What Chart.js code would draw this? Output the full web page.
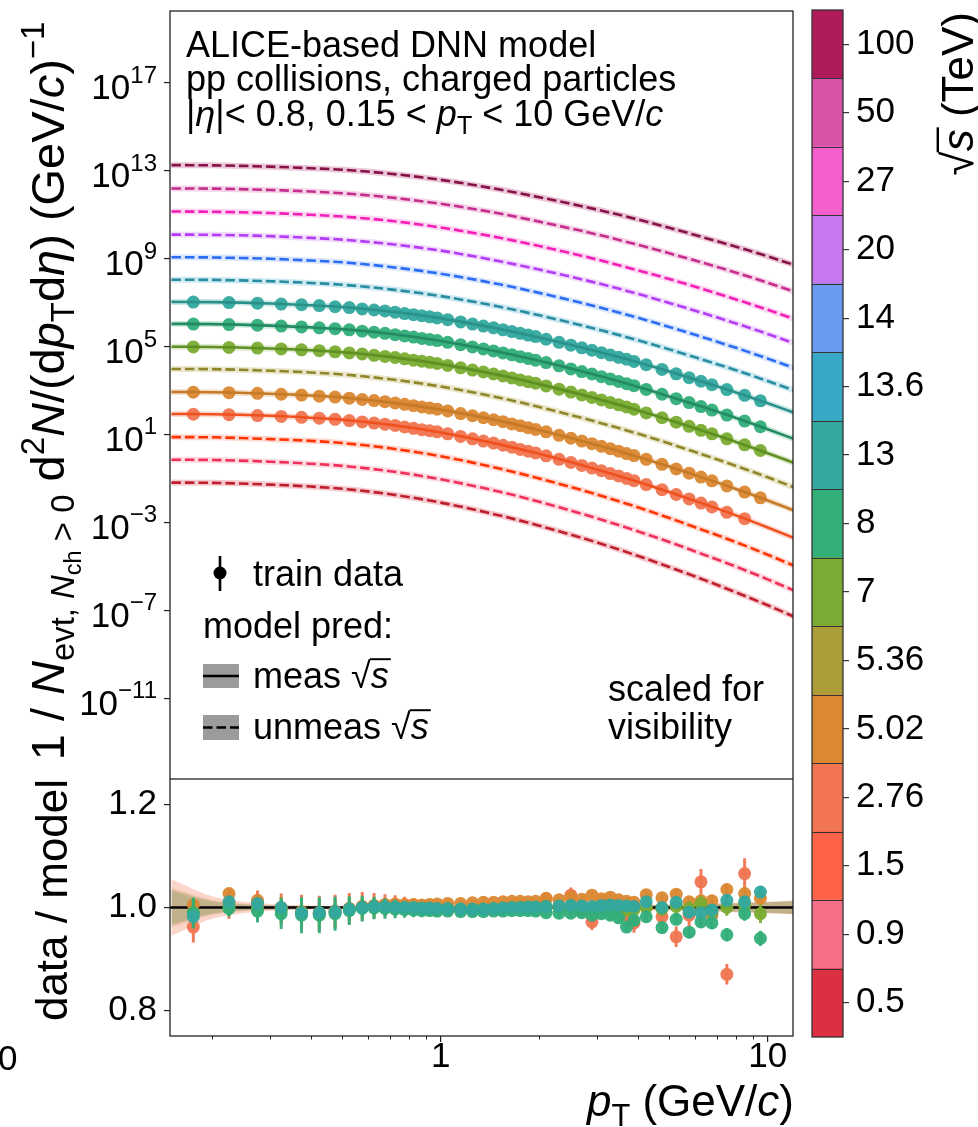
<!DOCTYPE html>
<html><head><meta charset="utf-8">
<script src="https://cdn.jsdelivr.net/npm/chart.js@4.4.1/dist/chart.umd.min.js"></script>
<style>
html,body{margin:0;padding:0;background:#fff;}
#wrap{position:relative;width:978px;height:1127px;overflow:hidden;background:#fff;}
.layer{position:absolute;left:0;}
</style></head><body>
<div id="wrap">
<div class="layer" style="top:0;width:978px;height:779px"><canvas id="top" width="978" height="779"></canvas></div>
<div class="layer" style="top:779px;width:978px;height:348px"><canvas id="ratio" width="978" height="348"></canvas></div>
<div class="layer" style="top:0;width:978px;height:1127px;pointer-events:none"><canvas id="cbar" width="978" height="1127"></canvas></div>
</div>
<script>
// ---------------- DATA ----------------
const energies = ['0.5','0.9','1.5','2.76','5.02','5.36','7','8','13','13.6','14','20','27','50','100'];
const measured = [false,false,false,true,true,false,true,true,true,false,false,false,false,false,false];
const pTGrid = [0.15,0.2,0.3,0.4,0.5,0.7,1,1.5,2,3,4,5,6,8,10,12];
// model predictions, log10 of yield (already scaled for visibility)
const model_0_5  = [-1.19,-1.20,-1.28,-1.37,-1.47,-1.72,-2.10,-2.67,-3.15,-3.91,-4.52,-5.03,-5.46,-6.18,-6.77,-7.28];
const model_0_9  = [-0.15,-0.16,-0.24,-0.33,-0.43,-0.67,-1.04,-1.59,-2.06,-2.81,-3.40,-3.89,-4.32,-5.01,-5.59,-6.09];
const model_1_5  = [0.88,0.87,0.79,0.71,0.61,0.37,0.01,-0.54,-1.00,-1.73,-2.31,-2.80,-3.22,-3.90,-4.47,-4.96];
const model_2_76 = [1.93,1.92,1.85,1.76,1.67,1.44,1.09,0.56,0.12,-0.59,-1.15,-1.62,-2.02,-2.68,-3.23,-3.70];
const model_5_02 = [2.93,2.92,2.85,2.77,2.68,2.46,2.13,1.63,1.20,0.52,-0.01,-0.46,-0.85,-1.48,-2.00,-2.45];
const model_5_36 = [3.98,3.97,3.90,3.82,3.73,3.51,3.18,2.68,2.25,1.57,1.04,0.59,0.20,-0.43,-0.95,-1.40];
const model_7    = [4.99,4.98,4.91,4.83,4.74,4.53,4.20,3.71,3.29,2.63,2.10,1.66,1.28,0.66,0.15,-0.29];
const model_8    = [6.03,6.02,5.95,5.87,5.79,5.58,5.25,4.76,4.35,3.69,3.17,2.73,2.36,1.75,1.24,0.80];
const model_13   = [7.03,7.02,6.96,6.88,6.80,6.59,6.28,5.81,5.41,4.78,4.28,3.86,3.50,2.91,2.42,2.00];
const model_13_6 = [8.04,8.03,7.97,7.89,7.81,7.60,7.29,6.82,6.42,5.79,5.29,4.87,4.51,3.92,3.43,3.01];
const model_14   = [9.06,9.05,8.99,8.91,8.83,8.62,8.31,7.84,7.44,6.81,6.31,5.89,5.53,4.94,4.45,4.03];
const model_20   = [10.09,10.08,10.02,9.94,9.86,9.66,9.36,8.89,8.50,7.89,7.40,6.98,6.63,6.05,5.57,5.16];
const model_27   = [11.14,11.13,11.07,10.99,10.91,10.72,10.41,9.96,9.57,8.96,8.47,8.07,7.72,7.14,6.67,6.26];
const model_50   = [12.19,12.18,12.12,12.05,11.97,11.78,11.49,11.06,10.68,10.10,9.63,9.24,8.91,8.36,7.90,7.51];
const model_100  = [13.25,13.24,13.18,13.11,13.04,12.86,12.58,12.15,11.79,11.23,10.78,10.40,10.07,9.54,9.10,8.72];
const modelLogs = [model_0_5,model_0_9,model_1_5,model_2_76,model_5_02,model_5_36,model_7,model_8,model_13,model_13_6,model_14,model_20,model_27,model_50,model_100];

// measured pT bin centres
const binCenters = [0.175,0.225,0.275,0.325,0.375,0.425,0.475,0.525,0.575,0.625,0.675,0.725,0.775,0.825,0.875,0.925,0.975,
  1.05,1.15,1.25,1.35,1.45,1.55,1.65,1.75,1.85,1.95,2.1,2.3,2.5,2.7,2.9,3.1,3.3,3.5,3.7,3.9,4.25,4.75,5.25,5.75,6.25,6.75,7.5,8.5,9.5];
// train data (log10, scaled)
const spec_2_76 = [1.92,1.90,1.86,1.82,1.78,1.74,1.69,1.63,1.57,1.52,1.47,1.41,1.34,1.28,1.22,1.17,1.12,1.03,0.91,0.80,0.70,0.61,0.51,0.42,0.32,0.24,0.16,0.03,-0.13,-0.27,-0.41,-0.53,-0.65,-0.78,-0.89,-1.00,-1.10,-1.28,-1.51,-1.73,-1.93,-2.12,-2.30,-2.54,-2.83];
const spec_5_02 = [2.92,2.90,2.87,2.83,2.79,2.74,2.70,2.65,2.59,2.54,2.49,2.43,2.37,2.31,2.25,2.20,2.15,2.07,1.95,1.85,1.76,1.67,1.58,1.48,1.40,1.31,1.23,1.12,0.96,0.83,0.70,0.58,0.46,0.35,0.24,0.13,0.04,-0.13,-0.36,-0.57,-0.76,-0.94,-1.11,-1.34,-1.62,-1.88];
const spec_7    = [4.98,4.96,4.93,4.89,4.85,4.81,4.76,4.71,4.66,4.60,4.55,4.50,4.44,4.38,4.33,4.28,4.23,4.14,4.03,3.93,3.84,3.75,3.66,3.57,3.48,3.40,3.33,3.21,3.06,2.93,2.80,2.68,2.57,2.45,2.35,2.25,2.15,1.98,1.76,1.56,1.37,1.19,1.03,0.80,0.53,0.27];
const spec_8    = [6.02,6.00,5.97,5.93,5.89,5.85,5.81,5.76,5.70,5.65,5.60,5.54,5.48,5.43,5.37,5.32,5.27,5.19,5.08,4.98,4.89,4.80,4.71,4.62,4.54,4.46,4.38,4.27,4.12,3.98,3.86,3.75,3.63,3.52,3.41,3.31,3.22,3.05,2.83,2.63,2.45,2.27,2.11,1.88,1.61,1.35];
const spec_13   = [7.02,7.00,6.97,6.93,6.90,6.86,6.81,6.77,6.71,6.66,6.62,6.56,6.50,6.45,6.40,6.35,6.30,6.22,6.12,6.02,5.93,5.85,5.76,5.68,5.60,5.52,5.45,5.33,5.19,5.06,4.94,4.83,4.72,4.61,4.51,4.42,4.32,4.17,3.96,3.76,3.58,3.42,3.26,3.04,2.78,2.53];
// data / model
const ratio_2_76 = [0.962,1.008,1.005,0.997,0.990,0.988,0.992,0.998,1.002,1.003,1.004,1.004,1.003,1.002,1.000,1.001,0.999,0.998,0.997,0.996,0.997,0.998,1.000,1.002,1.003,1.004,1.002,1.017,1.003,1.024,0.995,0.972,1.006,1.003,0.998,0.985,0.970,1.000,0.982,0.943,0.985,1.050,0.985,0.870,1.066];
const err_2_76   = [0.03,0.03,0.028,0.03,0.035,0.035,0.033,0.03,0.028,0.025,0.022,0.02,0.018,0.016,0.015,0.015,0.015,0.014,0.013,0.012,0.012,0.012,0.012,0.012,0.012,0.013,0.013,0.013,0.014,0.015,0.015,0.016,0.016,0.017,0.018,0.018,0.019,0.02,0.02,0.02,0.022,0.025,0.025,0.02,0.03];
const ratio_5_02 = [1.005,1.027,1.014,1.000,0.992,0.990,0.993,0.998,1.002,1.004,1.006,1.007,1.006,1.006,1.005,1.006,1.007,1.008,1.008,1.009,1.010,1.010,1.011,1.012,1.012,1.011,1.012,1.018,1.015,1.020,1.016,1.024,1.017,1.020,1.015,1.012,1.010,1.025,1.019,1.026,1.011,1.013,1.013,1.035,1.027,1.018];
const err_5_02   = [0.008,0.006,0.006,0.006,0.006,0.006,0.006,0.005,0.005,0.005,0.005,0.005,0.005,0.005,0.005,0.005,0.005,0.005,0.005,0.005,0.005,0.005,0.005,0.005,0.005,0.005,0.005,0.006,0.006,0.006,0.006,0.007,0.007,0.007,0.007,0.008,0.008,0.008,0.009,0.009,0.01,0.01,0.011,0.011,0.012,0.013];
const ratio_7    = [0.990,1.000,0.998,0.995,0.990,0.988,0.990,0.996,1.000,1.001,1.000,1.000,0.999,0.998,0.998,0.998,0.997,0.997,0.996,0.996,0.997,0.998,0.998,0.999,1.000,1.000,1.001,1.002,1.000,1.002,1.001,0.998,1.000,1.002,0.998,0.995,0.996,1.000,0.997,1.002,0.998,1.008,0.990,1.000,1.004,0.988];
const err_7      = [0.025,0.015,0.02,0.025,0.028,0.028,0.026,0.022,0.02,0.018,0.016,0.015,0.013,0.012,0.011,0.010,0.010,0.010,0.009,0.009,0.009,0.009,0.009,0.009,0.009,0.009,0.009,0.009,0.009,0.01,0.01,0.01,0.011,0.011,0.011,0.012,0.012,0.012,0.013,0.013,0.014,0.015,0.015,0.016,0.017,0.018];
const ratio_8    = [0.989,0.998,0.993,0.988,0.985,0.985,0.988,0.994,0.998,0.999,0.998,0.997,0.996,0.995,0.994,0.994,0.993,0.993,0.992,0.992,0.992,0.993,0.993,0.994,0.994,0.994,0.993,0.990,0.989,0.989,0.990,0.985,0.988,0.985,0.980,0.962,0.975,0.982,0.961,0.977,0.952,0.972,0.970,0.947,0.988,0.940];
const err_8      = [0.03,0.016,0.022,0.03,0.035,0.035,0.033,0.028,0.025,0.022,0.02,0.018,0.016,0.014,0.013,0.012,0.011,0.01,0.009,0.009,0.008,0.008,0.008,0.008,0.008,0.008,0.008,0.008,0.008,0.008,0.008,0.009,0.009,0.009,0.009,0.01,0.01,0.01,0.011,0.011,0.012,0.012,0.012,0.013,0.014,0.015];
const ratio_13   = [0.982,1.011,1.008,1.000,0.990,0.990,0.992,0.997,1.000,1.002,1.002,1.001,1.000,1.000,0.999,0.999,0.998,0.998,0.997,0.997,0.997,0.998,0.999,1.000,1.000,1.001,1.001,1.002,1.003,1.004,1.003,1.002,1.004,1.005,1.004,1.003,1.002,1.011,1.000,1.010,0.991,0.990,0.995,1.014,1.011,1.030];
const err_13     = [0.01,0.006,0.006,0.006,0.006,0.006,0.006,0.005,0.005,0.005,0.005,0.005,0.005,0.005,0.005,0.005,0.005,0.005,0.005,0.005,0.005,0.005,0.005,0.005,0.005,0.005,0.005,0.005,0.005,0.006,0.006,0.006,0.006,0.006,0.006,0.007,0.007,0.007,0.008,0.008,0.009,0.009,0.01,0.01,0.011,0.012];
// model uncertainty half-widths (relative) on pTGrid
const band_2_76 = [0.055,0.022,0.007,0.004,0.003,0.003,0.003,0.003,0.003,0.004,0.005,0.006,0.007,0.009,0.011,0.013];
const band_5_02 = [0.040,0.015,0.005,0.003,0.003,0.003,0.003,0.003,0.003,0.004,0.005,0.006,0.007,0.009,0.011,0.013];
const band_7    = [0.035,0.012,0.004,0.003,0.002,0.002,0.002,0.002,0.003,0.003,0.004,0.005,0.006,0.008,0.010,0.012];
const band_8    = [0.035,0.013,0.004,0.003,0.002,0.002,0.002,0.002,0.003,0.003,0.004,0.005,0.006,0.008,0.010,0.012];
const band_13   = [0.030,0.010,0.004,0.003,0.002,0.002,0.002,0.002,0.003,0.003,0.004,0.005,0.006,0.008,0.010,0.012];

const yTickExp = [17,13,9,5,1,-3,-7,-11];
const ratioTicks = [0.8,1.0,1.2];
const xMajorTicks = [1,10];
const xMinorTicks = [0.2,0.3,0.4,0.5,0.6,0.7,0.8,0.9,2,3,4,5,6,7,8,9];

// ---------------- STYLE ----------------
const cbColors  = ['#DD2F42','#F56F88','#FE6247','#F07550','#DB8833','#AB9E38','#7AAC33','#32AE79','#33A89E','#37A8C6','#6A9BF0','#C678EE','#F55FCC','#D852A8','#AE1A5A'];
const lineColors= ['#BE1E2D','#F0305A','#FF3300','#F0501E','#C47A26','#8F862A','#5E8F22','#238A63','#2A918A','#2A8CA0','#2B6CF5','#B43CF5','#F21EB5','#C42D8C','#86124A'];
const FONT = '"Liberation Sans", Arial, Helvetica, sans-serif';
Chart.defaults.font.family = FONT;
const xMin = 0.1485, xMax = 11.95;
const TICK = 35, TEXT = 36, TITLE = 46;

function hexA(h,a){const n=parseInt(h.slice(1),16);return `rgba(${n>>16&255},${n>>8&255},${n&255},${a})`;}
function fnt(sz,it){return (it?'italic ':'')+sz+'px '+FONT;}
function noPad(s){s.paddingTop=0;s.paddingBottom=0;s.paddingLeft=0;s.paddingRight=0;}
function drawRich(ctx,segs,x,y,S,align){
  let total=0;
  const items=segs.map(s=>{const fs=S*(s.sc||1);ctx.font=fnt(fs,s.it);const w=ctx.measureText(s.t).width;total+=w;return Object.assign({},s,{fs,w});});
  let cx=align==='center'?x-total/2:align==='right'?x-total:x;
  ctx.textAlign='left';ctx.textBaseline='alphabetic';
  items.forEach(it=>{
    ctx.font=fnt(it.fs,it.it);const yy=y+(it.dy||0)*S;ctx.fillText(it.t,cx,yy);
    if(it.ov){ctx.save();ctx.lineWidth=Math.max(1.5,it.fs*0.055);ctx.strokeStyle=ctx.fillStyle;ctx.beginPath();ctx.moveTo(cx-1,yy-it.fs*0.80);ctx.lineTo(cx+it.w+2,yy-it.fs*0.80);ctx.stroke();ctx.restore();}
    cx+=it.w;
  });
  return total;
}
const SQRT_S=[{t:'\u221A'},{t:'s',it:1,ov:1}];

// ---------------- TOP PANEL ----------------
const topDatasets=[];
modelLogs.forEach((arr,i)=>{
  const pts=pTGrid.map((x,j)=>({x,y:Math.pow(10,arr[j])}));
  topDatasets.push({type:'line',data:pts,borderColor:hexA(cbColors[i],0.25),borderWidth:6,pointRadius:0,cubicInterpolationMode:'monotone',order:3,clip:0});
  topDatasets.push({type:'line',data:pts,borderColor:lineColors[i],borderWidth:2.6,borderDash:measured[i]?[]:[9.5,4],pointRadius:0,cubicInterpolationMode:'monotone',order:0,clip:0});
});
const measSeries=[
  {spec:spec_2_76,ratio:ratio_2_76,err:err_2_76,band:band_2_76,ci:3},
  {spec:spec_5_02,ratio:ratio_5_02,err:err_5_02,band:band_5_02,ci:4},
  {spec:spec_7,ratio:ratio_7,err:err_7,band:band_7,ci:6},
  {spec:spec_8,ratio:ratio_8,err:err_8,band:band_8,ci:7},
  {spec:spec_13,ratio:ratio_13,err:err_13,band:band_13,ci:8}
];
measSeries.forEach(s=>{
  topDatasets.push({type:'scatter',data:s.spec.map((v,j)=>({x:binCenters[j],y:Math.pow(10,v)})),backgroundColor:hexA(cbColors[s.ci],0.95),borderWidth:0,pointRadius:6.5,order:1});
});

const topPlugin={id:'topDeco',afterDraw(chart){
  const {ctx,chartArea:a,scales:{y}}=chart;
  ctx.save();
  ctx.strokeStyle='#222';ctx.lineWidth=1.3;ctx.strokeRect(a.left,a.top,a.right-a.left,a.bottom-a.top);
  ctx.fillStyle='#000';
  yTickExp.forEach(e=>{
    const py=y.getPixelForValue(Math.pow(10,e));
    const sup=(e<0?'\u2212':'')+Math.abs(e);
    ctx.font=fnt(24);const ws=ctx.measureText(sup).width;
    ctx.textAlign='left';ctx.textBaseline='alphabetic';
    ctx.fillText(sup,157-ws,py);
    ctx.font=fnt(TICK);ctx.textAlign='right';
    ctx.fillText('10',157-ws,py+16.5);
  });
  // y title
  ctx.save();ctx.translate(64,391);ctx.rotate(-Math.PI/2);
  drawRich(ctx,[{t:'1 / '},{t:'N',it:1},{t:'evt, ',sc:.7,dy:.22},{t:'N',it:1,sc:.7,dy:.22},{t:'ch',sc:.5,dy:.36},{t:' > 0',sc:.7,dy:.22},
    {t:' d'},{t:'2',sc:.7,dy:-.42},{t:'N',it:1},{t:'/(d'},{t:'p',it:1},{t:'T',sc:.7,dy:.22},{t:'d'},{t:'\u03B7',it:1},{t:') (GeV/'},{t:'c',it:1},{t:')'},{t:'\u22121',sc:.7,dy:-.42}],0,0,TITLE+1,'center');
  ctx.restore();
  // header text
  ctx.fillStyle='#000';
  drawRich(ctx,[{t:'ALICE-based DNN model'}],186,57,TEXT,'left');
  drawRich(ctx,[{t:'pp collisions, charged particles'}],186,91,TEXT,'left');
  drawRich(ctx,[{t:'|'},{t:'\u03B7',it:1},{t:'|< 0.8, 0.15 < '},{t:'p',it:1},{t:'T',sc:.7,dy:.22},{t:' < 10 GeV/'},{t:'c',it:1}],186,126,TEXT,'left');
  // legend
  ctx.strokeStyle='#000';ctx.lineWidth=2.6;
  ctx.beginPath();ctx.moveTo(220,556);ctx.lineTo(220,591);ctx.stroke();
  ctx.beginPath();ctx.arc(220,573,6.5,0,Math.PI*2);ctx.fill();
  drawRich(ctx,[{t:'train data'}],253,586,TEXT,'left');
  drawRich(ctx,[{t:'model pred:'}],203,638,TEXT,'left');
  ctx.fillStyle='#9b9b9b';ctx.fillRect(203,664,36,24);ctx.fillRect(203,715,36,25);
  ctx.beginPath();ctx.moveTo(203,676);ctx.lineTo(239,676);ctx.stroke();
  ctx.setLineDash([9.5,4]);ctx.beginPath();ctx.moveTo(203,727.5);ctx.lineTo(239,727.5);ctx.stroke();ctx.setLineDash([]);
  ctx.fillStyle='#000';
  drawRich(ctx,[{t:'meas '}].concat(SQRT_S),253,688,TEXT,'left');
  drawRich(ctx,[{t:'unmeas '}].concat(SQRT_S),253,739,TEXT,'left');
  drawRich(ctx,[{t:'scaled for'}],608,701,TEXT,'left');
  drawRich(ctx,[{t:'visibility'}],608,739,TEXT,'left');
  ctx.restore();
}};

new Chart(document.getElementById('top'),{
  type:'line',
  data:{datasets:topDatasets},
  options:{responsive:false,animation:false,
    layout:{autoPadding:false,padding:{left:0,right:185,top:11,bottom:0}},
    plugins:{legend:{display:false},tooltip:{enabled:false}},
    scales:{
      x:{type:'logarithmic',min:xMin,max:xMax,ticks:{display:false},grid:{display:false},border:{display:false},afterFit:s=>{s.height=0;noPad(s);}},
      y:{type:'logarithmic',min:Math.pow(10,-14.67),max:Math.pow(10,20.26),
        afterBuildTicks:s=>{s.ticks=yTickExp.map(e=>({value:Math.pow(10,e)}));},
        ticks:{callback:()=>'',autoSkip:false},
        grid:{drawOnChartArea:false,tickLength:6,color:'#222',lineWidth:1.2},border:{display:false},
        afterFit:s=>{s.width=170;noPad(s);}}
    }},
  plugins:[topPlugin]
});

// ---------------- RATIO PANEL ----------------
const ratioDatasets=[];
const bandCols=[hexA(cbColors[3],0.30),hexA(cbColors[4],0.15),hexA(cbColors[6],0.14),hexA(cbColors[7],0.30),hexA(cbColors[8],0.15)];
measSeries.forEach((s,k)=>{
  ratioDatasets.push({type:'line',data:pTGrid.map((x,j)=>({x,y:1+s.band[j]})),borderWidth:0,pointRadius:0,fill:'+1',backgroundColor:bandCols[k],cubicInterpolationMode:'monotone',order:10});
  ratioDatasets.push({type:'line',data:pTGrid.map((x,j)=>({x,y:1-s.band[j]})),borderWidth:0,pointRadius:0,fill:false,cubicInterpolationMode:'monotone',order:10});
});
ratioDatasets.push({type:'line',data:[{x:xMin,y:1},{x:xMax,y:1}],borderColor:'#000',borderWidth:2.6,pointRadius:0,order:9});
measSeries.forEach((s,k)=>{
  ratioDatasets.push({type:'scatter',data:s.ratio.map((v,j)=>({x:binCenters[j],y:v})),errs:s.err,
    backgroundColor:hexA(cbColors[s.ci],0.95),borderWidth:0,pointRadius:6.5,order:5-k});
});
const ratioPlugin={id:'ratioDeco',
  beforeDatasetDraw(chart,args){
    const ds=chart.data.datasets[args.index];if(!ds.errs)return;
    const {ctx,chartArea:a,scales:{x,y}}=chart;
    ctx.save();ctx.beginPath();ctx.rect(a.left,a.top,a.right-a.left,a.bottom-a.top);ctx.clip();
    ctx.strokeStyle=ds.backgroundColor;ctx.lineWidth=3;ctx.beginPath();
    ds.data.forEach((p,j)=>{const px=x.getPixelForValue(p.x);ctx.moveTo(px,y.getPixelForValue(p.y-ds.errs[j]));ctx.lineTo(px,y.getPixelForValue(p.y+ds.errs[j]));});
    ctx.stroke();ctx.restore();
  },
  afterDraw(chart){
    const {ctx,chartArea:a,scales:{x}}=chart;
    ctx.save();
    ctx.strokeStyle='#222';ctx.lineWidth=1.3;ctx.strokeRect(a.left,a.top,a.right-a.left,a.bottom-a.top);
    ctx.lineWidth=1;ctx.beginPath();
    xMinorTicks.forEach(v=>{const px=Math.round(x.getPixelForValue(v))+0.5;ctx.moveTo(px,a.bottom);ctx.lineTo(px,a.bottom+3.5);});
    ctx.stroke();
    ctx.fillStyle='#000';
    ctx.save();ctx.translate(67,121);ctx.rotate(-Math.PI/2);
    drawRich(ctx,[{t:'data / model'}],0,0,TITLE-2,'center');ctx.restore();
    drawRich(ctx,[{t:'p',it:1},{t:'T',sc:.7,dy:.22},{t:' (GeV/'},{t:'c',it:1},{t:')'}],794,337,TITLE-2,'right');
    drawRich(ctx,[{t:'0'}],-2,291,TICK,'left');
    ctx.restore();
  }};
new Chart(document.getElementById('ratio'),{
  type:'line',
  data:{datasets:ratioDatasets},
  options:{responsive:false,animation:false,
    layout:{autoPadding:false,padding:{left:0,right:185,top:0,bottom:0}},
    plugins:{legend:{display:false},tooltip:{enabled:false}},
    scales:{
      x:{type:'logarithmic',min:xMin,max:xMax,
        afterBuildTicks:s=>{s.ticks=xMajorTicks.map(v=>({value:v}));},
        ticks:{autoSkip:false,maxRotation:0,color:'#000',font:{size:TICK,lineHeight:1},padding:-2,callback:v=>String(v)},
        grid:{drawOnChartArea:false,tickLength:6,color:'#222',lineWidth:1.2},border:{display:false},
        afterFit:s=>{s.height=91;noPad(s);}},
      y:{type:'linear',min:0.75,max:1.25,
        afterBuildTicks:s=>{s.ticks=ratioTicks.map(v=>({value:v}));},
        ticks:{autoSkip:false,color:'#000',font:{size:TICK},padding:7,callback:v=>v.toFixed(1)},
        grid:{drawOnChartArea:false,tickLength:6,color:'#222',lineWidth:1.2},border:{display:false},
        afterFit:s=>{s.width=170;noPad(s);}}
    }},
  plugins:[ratioPlugin]
});

// ---------------- COLORBAR ----------------
const cbPlugin={id:'cbDeco',afterDraw(chart){
  const {ctx,chartArea:a,scales:{y}}=chart;
  ctx.save();
  ctx.strokeStyle='#333';ctx.lineWidth=1;ctx.beginPath();
  for(let i=1;i<energies.length;i++){const py=Math.round(y.getPixelForValue(i))+0.5;ctx.moveTo(a.left,py);ctx.lineTo(a.right,py);}
  ctx.stroke();
  ctx.lineWidth=1.3;ctx.strokeRect(a.left,a.top,a.right-a.left,a.bottom-a.top);
  ctx.fillStyle='#000';
  ctx.translate(973,12);ctx.rotate(-Math.PI/2);
  drawRich(ctx,SQRT_S.concat([{t:' (TeV)'}]),0,0,TITLE-2,'right');
  ctx.restore();
}};
new Chart(document.getElementById('cbar'),{
  type:'bar',
  data:{labels:[''],datasets:energies.map((e,i)=>({data:[1],backgroundColor:cbColors[i],borderWidth:0}))},
  options:{responsive:false,animation:false,
    layout:{autoPadding:false,padding:{left:812,right:0,top:10,bottom:90}},
    plugins:{legend:{display:false},tooltip:{enabled:false}},
    datasets:{bar:{barPercentage:1,categoryPercentage:1}},
    scales:{
      x:{display:false,stacked:true},
      y:{stacked:true,position:'right',min:0,max:energies.length,
        afterBuildTicks:s=>{s.ticks=energies.map((e,i)=>({value:i+0.5}));},
        ticks:{autoSkip:false,color:'#000',font:{size:TICK},padding:7,callback:v=>energies[Math.floor(v)]},
        grid:{drawOnChartArea:false,tickLength:6,color:'#333',lineWidth:1.2},border:{display:false},
        afterFit:s=>{s.width=135;noPad(s);}}
    }},
  plugins:[cbPlugin]
});
</script>
</body></html>
